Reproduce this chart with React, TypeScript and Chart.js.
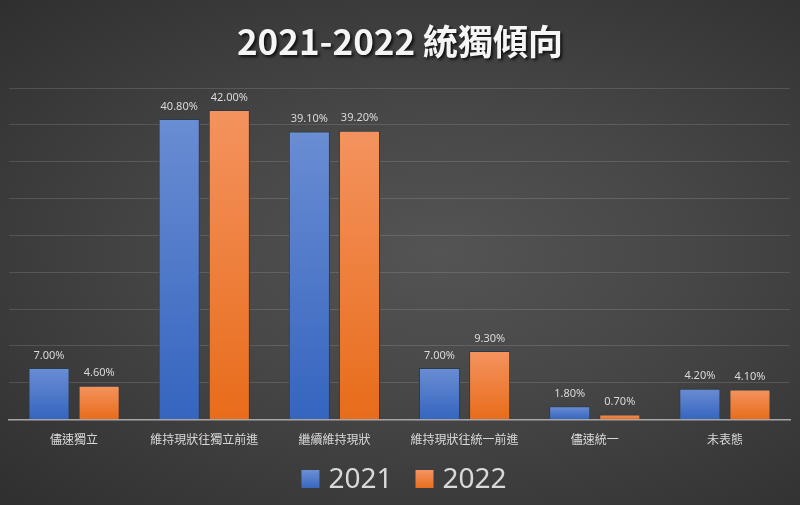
import React, { useEffect, useRef } from "react";
import { Chart, registerables } from "chart.js";

Chart.register(...registerables);

const categories = ["儘速獨立", "維持現狀往獨立前進", "繼續維持現狀", "維持現狀往統一前進", "儘速統一", "未表態"];
const series2021 = [7.0, 40.8, 39.1, 7.0, 1.8, 4.2];
const series2022 = [4.6, 42.0, 39.2, 9.3, 0.7, 4.1];
const seriesNames = ["2021", "2022"];
const titleText = "2021-2022 統獨傾向";

const blueTop = "#6a8dd3";
const blueBottom = "#3565bf";
const orangeTop = "#f4935f";
const orangeBottom = "#e86c1a";

function gradFor(top: string, bottom: string) {
  return (ctx: any) => {
    const chart = ctx.chart;
    const y = chart.scales?.y;
    if (!y || ctx.type !== "data") return bottom;
    const v = ctx.raw as number;
    const yTop = y.getPixelForValue(v);
    const yBot = y.getPixelForValue(0);
    if (!isFinite(yTop) || !isFinite(yBot) || yTop === yBot) return bottom;
    const g = chart.ctx.createLinearGradient(0, yTop, 0, yBot);
    g.addColorStop(0, top);
    g.addColorStop(1, bottom);
    return g;
  };
}

const decorPlugin = {
  id: "decor",
  afterDatasetsDraw(chart: any) {
    const ctx = chart.ctx;
    ctx.save();
    ctx.font = "11px 'Noto Sans', 'Noto Sans CJK TC', sans-serif";
    ctx.fillStyle = "#d9d9d9";
    ctx.textAlign = "center";
    ctx.textBaseline = "bottom";
    chart.data.datasets.forEach((ds: any, di: number) => {
      const meta = chart.getDatasetMeta(di);
      meta.data.forEach((bar: any, i: number) => {
        const v = ds.data[i] as number;
        ctx.fillText(v.toFixed(2) + "%", bar.x, bar.y - 7);
      });
    });
    ctx.restore();
  },
  afterDraw(chart: any) {
    const ctx = chart.ctx;
    const w = chart.width;
    ctx.save();
    // title
    ctx.font = "bold 35px 'Noto Sans CJK TC', 'Noto Sans', sans-serif";
    ctx.textAlign = "center";
    ctx.textBaseline = "middle";
    ctx.shadowColor = "rgba(0,0,0,0.75)";
    ctx.shadowOffsetX = 2;
    ctx.shadowOffsetY = 2;
    ctx.shadowBlur = 3;
    ctx.fillStyle = "#f5f5f5";
    ctx.fillText(titleText, w / 2, 42);
    ctx.restore();

    // legend
    ctx.save();
    ctx.font = "28px 'Noto Sans', sans-serif";
    ctx.textBaseline = "middle";
    ctx.textAlign = "left";
    const sq = 18;
    const gapBoxText = 9;
    const gapItems = 23;
    const widths = seriesNames.map((n) => ctx.measureText(n).width);
    const total = widths.reduce((a, b) => a + b, 0) + seriesNames.length * (sq + gapBoxText) + gapItems * (seriesNames.length - 1);
    let x = w / 2 + 4 - total / 2;
    const cy = 480;
    const cols = [blueBottom, orangeBottom];
    const colsTop = [blueTop, orangeTop];
    seriesNames.forEach((n, i) => {
      const g = ctx.createLinearGradient(0, cy - sq / 2, 0, cy + sq / 2);
      g.addColorStop(0, colsTop[i]);
      g.addColorStop(1, cols[i]);
      ctx.fillStyle = g;
      ctx.fillRect(x, cy - sq / 2 - 1, sq, sq);
      x += sq + gapBoxText;
      ctx.fillStyle = "#d9d9d9";
      ctx.fillText(n, x, cy);
      x += widths[i] + gapItems;
    });
    ctx.restore();
  },
};

export default function App() {
  const ref = useRef<HTMLCanvasElement>(null);
  useEffect(() => {
    if (!ref.current) return;
    const chart = new Chart(ref.current, {
      type: "bar",
      data: {
        labels: categories,
        datasets: [
          {
            label: seriesNames[0],
            data: series2021,
            backgroundColor: gradFor(blueTop, blueBottom),
            borderColor: "#2a3c4a",
            borderWidth: 1,
            categoryPercentage: 0.77,
            barPercentage: 0.82,
          },
          {
            label: seriesNames[1],
            data: series2022,
            backgroundColor: gradFor(orangeTop, orangeBottom),
            borderColor: "#2a3c4a",
            borderWidth: 1,
            categoryPercentage: 0.77,
            barPercentage: 0.82,
          },
        ],
      },
      options: {
        animation: false,
        responsive: false,
        maintainAspectRatio: false,
        layout: { padding: { top: 88, left: 9, right: 10, bottom: 53 } },
        plugins: {
          legend: { display: false },
          title: { display: false },
          tooltip: { enabled: false },
        },
        scales: {
          x: {
            grid: { display: false },
            border: { display: true, color: "#a6a6a6", width: 1.5 },
            ticks: {
              color: "#d9d9d9",
              font: { size: 12, family: "'Noto Sans CJK TC', sans-serif" },
              padding: 5,
              maxRotation: 0,
              autoSkip: false,
            },
          },
          y: {
            min: 0,
            max: 45,
            ticks: { display: false, stepSize: 5 },
            grid: {
              drawTicks: false,
              color: (c: any) => (c.tick && c.tick.value === 0 ? "#a6a6a6" : "rgba(255,255,255,0.13)"),
              lineWidth: 1,
            },
            border: { display: false },
          },
        },
      },
      plugins: [decorPlugin],
    });
    return () => chart.destroy();
  }, []);
  return (
    <div
      style={{
        position: "fixed",
        left: 0,
        top: 0,
        width: 800,
        height: 505,
        background: "radial-gradient(ellipse at 55% 50%, #545454 0%, #474747 40%, #2f2f2f 100%)",
      }}
    >
      <canvas ref={ref} width={800} height={505} style={{ display: "block" }} />
    </div>
  );
}
